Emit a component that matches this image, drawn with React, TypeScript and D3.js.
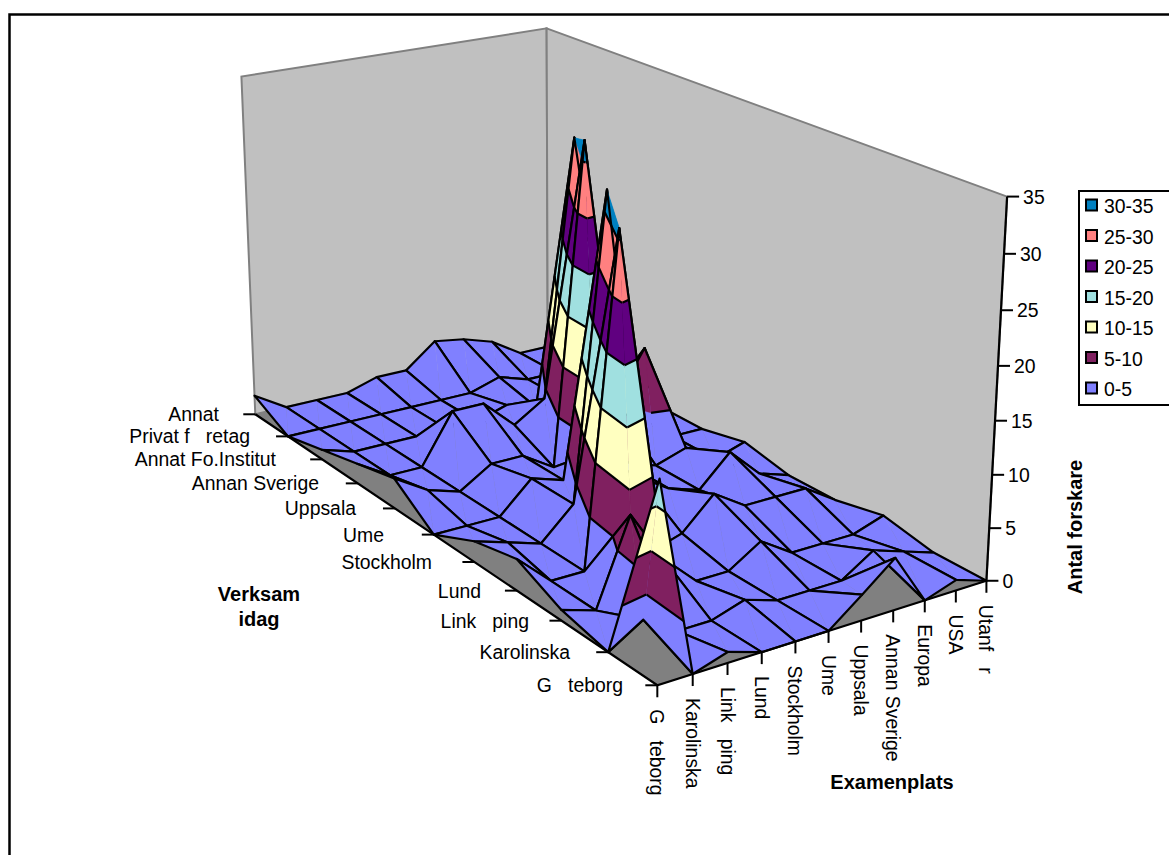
import React from "react";
import * as d3 from "d3";

const examCategories = ["G   teborg","Karolinska","Link   ping","Lund","Stockholm","Ume","Uppsala","Annan Sverige","Europa","USA","Utanf   r"];
const activeCategories = ["G   teborg","Karolinska","Link   ping","Lund","Stockholm","Ume","Uppsala","Annan Sverige","Annat Fo.Institut","Privat f   retag","Annat"];
const activeLabelEnds = [623,570,529,481,432,384,356,319,276,250,219];
const zTicks = [0,5,10,15,20,25,30,35];
const row0 = [18,0,1,0,0,0,2.4,4.9,0,1,0];
const row1 = [0,2,0,0,1,0,0,0,2,1,0];
const row2 = [1,0,8,3,0,0,2,0,0,0,1];
const row3 = [3,0,0,31,0,1,4,2,2,2,0];
const row4 = [2,1,0,3,32,4,2,1,4,1,0];
const row5 = [0,0,0,3,2,4,2,1,2,0,1];
const row6 = [3,1,0,2,2,0,32,5,10,0,0];
const row7 = [2,0,0,5,5,2,4,30,2,0,0];
const row8 = [1,0,0,0,0,0,1,0,0,0,0];
const row9 = [0,0,0,0,0,0,0,1,0,0,0];
const row10 = [2,0,0,0,1,1,3.5,3,2,0,0];
const grid = [row0,row1,row2,row3,row4,row5,row6,row7,row8,row9,row10];
const bandLabels = ["0-5","5-10","10-15","15-20","20-25","25-30","30-35"];
const bandColors = ["#8080FF","#802060","#FFFFC0","#A0E0E0","#600080","#FF8080","#0080C0"];

const anchors: [number,number,number,number,number][] = [
  [0,0,0,658,685],[1,0,0,986,580],[0,1,0,255,415],[1,1,0,548,345],
  [1,0,1,1007,197],[0,1,1,241,78],[1,1,1,547,28],[0,0,1,662,270],
  [1,0,5/35,989,530],[1,0,15/35,995,422],[1,0,25/35,1001,310],
];
function solve(A:number[][],b:number[]){
  const n=b.length; const M=A.map((r,i)=>[...r,b[i]]);
  for(let c=0;c<n;c++){
    let p=c; for(let r=c+1;r<n;r++) if(Math.abs(M[r][c])>Math.abs(M[p][c])) p=r;
    [M[c],M[p]]=[M[p],M[c]];
    for(let r=0;r<n;r++){ if(r===c) continue; const f=M[r][c]/M[c][c]; for(let k=c;k<=n;k++) M[r][k]-=f*M[c][k]; }
  }
  return M.map((r,i)=>r[n]/r[i]);
}
function fit(){
  const rows:number[][]=[]; const rhs:number[]=[];
  anchors.forEach(([u,v,w,X,Y])=>{
    rows.push([1,u,v,w,0,0,0,0,-X*u,-X*v,-X*w]); rhs.push(X);
    rows.push([0,0,0,0,1,u,v,w,-Y*u,-Y*v,-Y*w]); rhs.push(Y);
  });
  const ATA=d3.range(11).map(a=>d3.range(11).map(b=>d3.sum(rows,r=>r[a]*r[b])));
  const ATb=d3.range(11).map(a=>d3.sum(rows,(r,i)=>r[a]*rhs[i]));
  return solve(ATA,ATb);
}
const P=fit();
const uScale=d3.scaleLinear([0,examCategories.length-1],[0,1]);
const vScale=d3.scaleLinear([0,activeCategories.length-1],[0,1]);
const zScale=d3.scaleLinear([0,35],[0,1]);
function proj(u:number,v:number,w:number):[number,number]{
  const d=1+P[8]*u+P[9]*v+P[10]*w;
  return [(P[0]+P[1]*u+P[2]*v+P[3]*w)/d,(P[4]+P[5]*u+P[6]*v+P[7]*w)/d];
}
const pt=(i:number,j:number,z:number)=>proj(uScale(i),vScale(j),zScale(z));
type V=[number,number,number];
const lineGen=d3.line();
const closed=(pts:[number,number][])=>lineGen(pts)+"Z";
const lerp=(a:V,b:V,t:number):V=>[a[0]+(b[0]-a[0])*t,a[1]+(b[1]-a[1])*t,a[2]+(b[2]-a[2])*t];
function clip(poly:V[],level:number,keepAbove:boolean){
  const out:V[]=[];
  poly.forEach((a,k)=>{
    const b=poly[(k+1)%poly.length];
    const ina=keepAbove?a[2]>=level:a[2]<=level;
    const inb=keepAbove?b[2]>=level:b[2]<=level;
    if(ina) out.push(a);
    if(ina!==inb) out.push(lerp(a,b,(level-a[2])/(b[2]-a[2])));
  });
  return out;
}
const bandEdges=d3.range(0,36,5);
function triangle(tri:V[],key:string){
  const els:React.ReactNode[]=[];
  bandColors.forEach((col,k)=>{
    let poly=clip(tri,bandEdges[k],true);
    if(poly.length) poly=clip(poly,bandEdges[k+1],false);
    if(poly.length<3) return;
    els.push(<path key={key+"b"+k} d={closed(poly.map(p=>pt(p[0],p[1],p[2])))} fill={col} stroke={col} strokeWidth={0.3}/>);
  });
  bandEdges.slice(1,-1).forEach((lv)=>{
    const cross:V[]=[];
    tri.forEach((a,k)=>{
      const b=tri[(k+1)%3];
      if((a[2]-lv)*(b[2]-lv)<0) cross.push(lerp(a,b,(lv-a[2])/(b[2]-a[2])));
    });
    if(cross.length===2) els.push(<path key={key+"c"+lv} d={lineGen(cross.map(p=>pt(p[0],p[1],p[2])))!} fill="none" stroke="#000" strokeWidth={2.2}/>);
  });
  return els;
}
function cells(){
  const out:React.ReactNode[]=[];
  for(let j=grid.length-2;j>=0;j--) for(let i=grid[0].length-2;i>=0;i--){
    const a:V=[i,j,grid[j][i]],b:V=[i+1,j,grid[j][i+1]],c:V=[i+1,j+1,grid[j+1][i+1]],d:V=[i,j+1,grid[j+1][i]];
    out.push(<g key={i+"_"+j}>
      {triangle([a,b,c],"A")}
      {triangle([a,d,c],"B")}
      <path d={closed([a,b,c,d].map(p=>pt(p[0],p[1],p[2])))} fill="none" stroke="#000" strokeWidth={2.2} strokeLinejoin="round"/>
    </g>);
  }
  return out;
}
const font="'Liberation Sans', Arial, sans-serif";
const fs=19.4;
export default function App(){
  const A=proj(0,0,0),B=proj(1,0,0),C=proj(0,1,0),D=proj(1,1,0),Bt=proj(1,0,1),Ct=proj(0,1,1),Dt=proj(1,1,1);
  return <svg width={1169} height={855} style={{position:"absolute",left:0,top:0,background:"#fff"}} fontFamily={font} fontSize={fs} fill="#000">
    <rect x={9.5} y={14.5} width={1170} height={860} fill="#fff" stroke="#000" strokeWidth={2.5}/>
    <path d={closed([C,D,Dt,Ct])} fill="#C0C0C0" stroke="#808080" strokeWidth={2}/>
    <path d={closed([D,B,Bt,Dt])} fill="#C0C0C0" stroke="#808080" strokeWidth={2}/>
    <path d={closed([A,B,D,C])} fill="#808080" stroke="#808080" strokeWidth={1}/>
    {cells()}
    <path d={lineGen([C,A,B])!} fill="none" stroke="#000" strokeWidth={2.2}/>
    <path d={lineGen([B,Bt])!} fill="none" stroke="#000" strokeWidth={2.2}/>
    {activeCategories.map((t,j)=>{const p=pt(0,j,0);return <g key={t}>
      <line x1={p[0]-12} x2={p[0]} y1={p[1]} y2={p[1]} stroke="#000" strokeWidth={2}/>
      <text x={activeLabelEnds[j]} y={p[1]+7} textAnchor="end" style={{whiteSpace:"pre"}}>{t}</text>
    </g>;})}
    {examCategories.map((t,i)=>{const p=pt(i,0,0);return <g key={t}>
      <line x1={p[0]} x2={p[0]} y1={p[1]} y2={p[1]+12} stroke="#000" strokeWidth={2}/>
      <text transform={`translate(${p[0]-7},${p[1]+24}) rotate(90)`} style={{whiteSpace:"pre"}}>{t}</text>
    </g>;})}
    {zTicks.map(t=>{const p=proj(1,0,zScale(t));return <g key={t}>
      <line x1={p[0]} x2={p[0]+12} y1={p[1]} y2={p[1]} stroke="#000" strokeWidth={2}/>
      <text x={p[0]+16} y={p[1]+7}>{t}</text>
    </g>;})}
    <text x={259} y={601} textAnchor="middle" fontWeight="bold" fontSize={20}>Verksam</text>
    <text x={259} y={626} textAnchor="middle" fontWeight="bold" fontSize={20}>idag</text>
    <text x={892} y={789} textAnchor="middle" fontWeight="bold" fontSize={20}>Examenplats</text>
    <text transform="translate(1082,527) rotate(-90)" textAnchor="middle" fontWeight="bold" fontSize={20}>Antal forskare</text>
    <rect x={1079} y={191} width={110} height={214} fill="#fff" stroke="#000" strokeWidth={2}/>
    {bandLabels.slice().reverse().map((t,k)=>{const col=bandColors[bandColors.length-1-k];const y=205+k*30.5;return <g key={t}>
      <rect x={1086} y={y-5.5} width={11} height={11} fill={col} stroke="#000" strokeWidth={2}/>
      <text x={1104} y={y+8}>{t}</text>
    </g>;})}
  </svg>;
}
